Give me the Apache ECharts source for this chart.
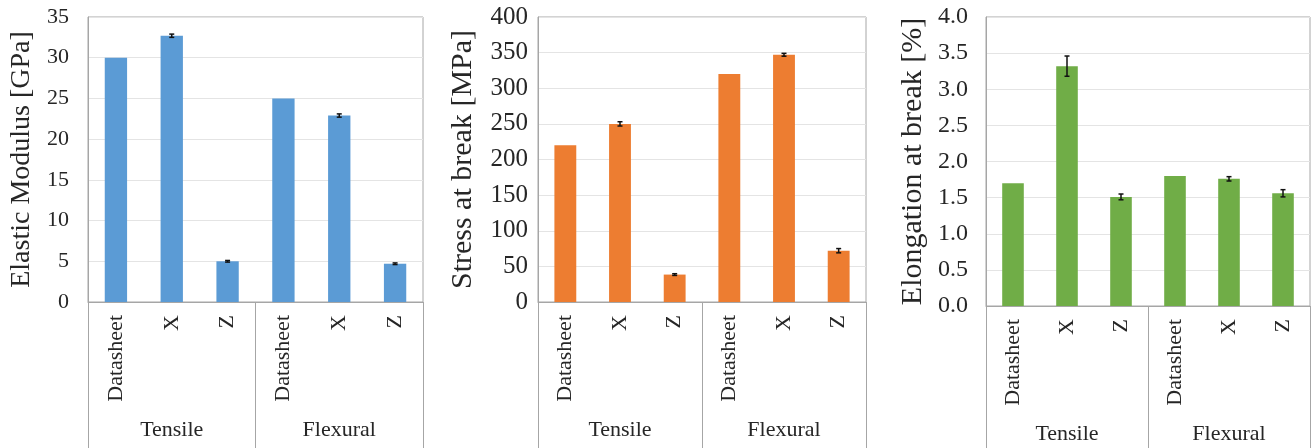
<!DOCTYPE html>
<html>
<head>
<meta charset="utf-8">
<script src="https://cdn.jsdelivr.net/npm/echarts@6/dist/echarts.min.js"></script>
<style>
  html, body { margin: 0; padding: 0; background: #ffffff; }
  #chart { width: 1314px; height: 448px; }
</style>
</head>
<body>
<div id="chart"></div>
<script>
// Test configurations along the x axis, grouped by test type
const categories = ['Datasheet', 'X', 'Z', 'Datasheet', 'X', 'Z'];
const groups = ['Tensile', 'Flexural'];

// Elastic modulus [GPa] and its standard deviation
const modulusValues = [30, 32.7, 5.0, 25, 22.9, 4.7];
const modulusErrors = [0, 0.2, 0.1, 0, 0.2, 0.1];

// Stress at break [MPa] and its standard deviation
const stressValues = [220, 250, 38.5, 320, 347, 72];
const stressErrors = [0, 3, 1.2, 0, 2, 3];

// Elongation at break [%] and its standard deviation
const elongValues = [1.7, 3.32, 1.51, 1.8, 1.76, 1.56];
const elongErrors = [0, 0.14, 0.04, 0, 0.03, 0.05];

const FONT = "'Liberation Serif', 'Times New Roman', serif";
const TEXT = '#262626';
const FRAME = '#a6a6a6';
const GRIDLINE = '#e4e4e4';

const panels = [
  { name: 'Elastic Modulus [GPa]', values: modulusValues, errors: modulusErrors, color: '#5b9bd5',
    max: 35, interval: 5, decimals: 0, nameSize: 28, tickSize: 22,
    grid: { left: 88, right: 891, top: 17, bottom: 146 }, nameGap: 52, labelMargin: 19 },
  { name: 'Stress at break [MPa]', values: stressValues, errors: stressErrors, color: '#ed7d31',
    max: 400, interval: 50, decimals: 0, nameSize: 30, tickSize: 25,
    grid: { left: 538, right: 448, top: 17, bottom: 146 }, nameGap: 60, labelMargin: 10 },
  { name: 'Elongation at break [%]', values: elongValues, errors: elongErrors, color: '#70ad47',
    max: 4, interval: 0.5, decimals: 1, nameSize: 30, tickSize: 24,
    grid: { left: 986, right: 4, top: 17, bottom: 142 }, nameGap: 58, labelMargin: 18 }
];

const grid = [], xAxis = [], yAxis = [], series = [];

panels.forEach((p, i) => {
  grid.push(Object.assign({ show: true, borderColor: FRAME, borderWidth: 1, backgroundColor: 'transparent' }, p.grid));

  // individual configurations
  xAxis.push({
    type: 'category', gridIndex: i, data: categories, position: 'bottom',
    axisLine: { show: true, lineStyle: { color: FRAME, width: 1 } },
    axisTick: { show: false },
    axisLabel: { rotate: 90, interval: 0, margin: 13, fontFamily: FONT, fontSize: 22, color: TEXT },
    splitLine: { show: false }
  });
  // test-type groups with separators running down to the bottom
  xAxis.push({
    type: 'category', gridIndex: i, data: groups, position: 'bottom',
    axisLine: { show: false },
    axisTick: { show: true, interval: 0, length: 160, lineStyle: { color: FRAME, width: 1 } },
    axisLabel: { interval: 0, margin: 117, fontFamily: FONT, fontSize: 22, color: TEXT },
    splitLine: { show: false }
  });

  yAxis.push({
    type: 'value', gridIndex: i, min: 0, max: p.max, interval: p.interval,
    name: p.name, nameLocation: 'middle', nameGap: p.nameGap,
    nameTextStyle: { fontFamily: FONT, fontSize: p.nameSize, color: TEXT },
    axisLine: { show: true, lineStyle: { color: FRAME, width: 1 } },
    axisTick: { show: false },
    axisLabel: { margin: p.labelMargin, fontFamily: FONT, fontSize: p.tickSize, color: TEXT,
      formatter: v => v.toFixed(p.decimals) },
    splitLine: { show: true, lineStyle: { color: GRIDLINE, width: 1 } }
  });

  series.push({
    type: 'bar', xAxisIndex: 2 * i, yAxisIndex: i, data: p.values,
    barWidth: '40%', itemStyle: { color: p.color }, silent: true, z: 2
  });

  // error bars: vertical whisker with small caps
  series.push({
    type: 'custom', xAxisIndex: 2 * i, yAxisIndex: i, silent: true, z: 5,
    data: p.values.map((v, k) => [k, v, p.errors[k]]),
    renderItem: (params, api) => {
      const err = api.value(2);
      if (!err) return null;
      const x = api.value(0), v = api.value(1);
      const top = api.coord([x, v + err]);
      const bot = api.coord([x, v - err]);
      const cap = 2.5;
      const style = { stroke: '#111111', lineWidth: 1.5 };
      return {
        type: 'group',
        children: [
          { type: 'line', shape: { x1: top[0], y1: top[1], x2: bot[0], y2: bot[1] }, style },
          { type: 'line', shape: { x1: top[0] - cap, y1: top[1], x2: top[0] + cap, y2: top[1] }, style },
          { type: 'line', shape: { x1: bot[0] - cap, y1: bot[1], x2: bot[0] + cap, y2: bot[1] }, style }
        ]
      };
    }
  });
});

const chart = echarts.init(document.getElementById('chart'), null, { renderer: 'canvas' });
chart.setOption({ animation: false, backgroundColor: '#ffffff', grid, xAxis, yAxis, series });
</script>
</body>
</html>
